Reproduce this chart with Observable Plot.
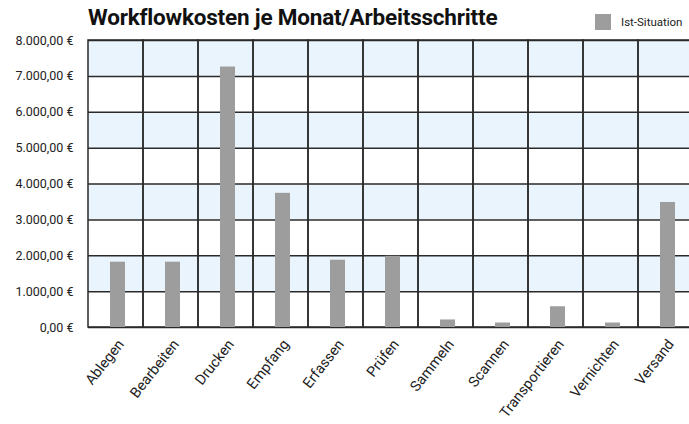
<!DOCTYPE html>
<html>
<head>
<meta charset="utf-8">
<script src="https://cdn.jsdelivr.net/npm/d3@7"></script>
<script src="https://cdn.jsdelivr.net/npm/@observablehq/plot@0.6"></script>
<style>
  html, body { margin: 0; padding: 0; background: #fff; overflow: hidden; width: 689px; height: 424px; }
  #wrap { position: relative; width: 689px; height: 424px; overflow: hidden; }
  #title { position: absolute; left: 88px; top: 4px; font-family: Roboto, sans-serif; font-weight: 700; font-size: 22.5px; color: #111; white-space: nowrap; letter-spacing: -0.2px; }
  #legend { position: absolute; left: 595px; top: 14px; font-family: Roboto, sans-serif; font-size: 11.5px; color: #222; display: flex; align-items: center; white-space: nowrap; }
  #legend .sw { width: 16px; height: 16px; background: #9d9d9d; margin-right: 10px; }
  #chart { position: absolute; left: 0; top: 0; width: 694px; }
  #chart svg { max-width: none !important; }
</style>
</head>
<body>
<div id="wrap">
  <div id="chart"></div>
  <div id="title">Workflowkosten je Monat/Arbeitsschritte</div>
  <div id="legend"><div class="sw"></div><span>Ist-Situation</span></div>
</div>
<script>
const categories = ["Ablegen", "Bearbeiten", "Drucken", "Empfang", "Erfassen", "Prüfen", "Sammeln", "Scannen", "Transportieren", "Vernichten", "Versand"];
const values = [1820, 1820, 7260, 3740, 1875, 1985, 210, 125, 578, 125, 3485];
const yTicks = [0, 1000, 2000, 3000, 4000, 5000, 6000, 7000, 8000];
const stripes = [[1000, 2000], [3000, 4000], [5000, 6000], [7000, 8000]];
const seriesName = "Ist-Situation";

const data = categories.map((c, i) => ({category: c, value: values[i], series: seriesName}));
const de = d3.formatLocale({decimal: ",", thousands: ".", grouping: [3], currency: ["", " €"]});
const fmt = de.format("$,.2f");

const chart = Plot.plot({
  width: 694,
  height: 424,
  marginLeft: 88,
  marginRight: 1,
  marginTop: 40,
  marginBottom: 97,
  style: {fontFamily: "Roboto, sans-serif", color: "#222", background: "transparent", maxWidth: "none"},
  x: {domain: categories, padding: 0},
  y: {domain: [0, 8000]},
  marks: [
    Plot.rect(stripes, {y1: d => d[0], y2: d => d[1], fill: "#e9f4fc"}),
    Plot.ruleY(yTicks, {stroke: "#2a2a2a", strokeWidth: 1.5}),
    Plot.barY(categories, {x: d => d, y1: 0, y2: 8000, fill: "none", stroke: "#2a2a2a", strokeWidth: 1.5}),
    Plot.barY(data, {x: "category", y: "value", fill: "#9d9d9d", insetLeft: 22, insetRight: 18}),
    Plot.axisY({ticks: yTicks, tickFormat: fmt, tickSize: 0, tickPadding: 15, fontSize: 12.5, label: null}),
    Plot.axisX({tickSize: 0, tickRotate: -52, tickPadding: 14, fontSize: 14.5, label: null, dx: 5})
  ]
});
document.getElementById("chart").appendChild(chart);
</script>
</body>
</html>
